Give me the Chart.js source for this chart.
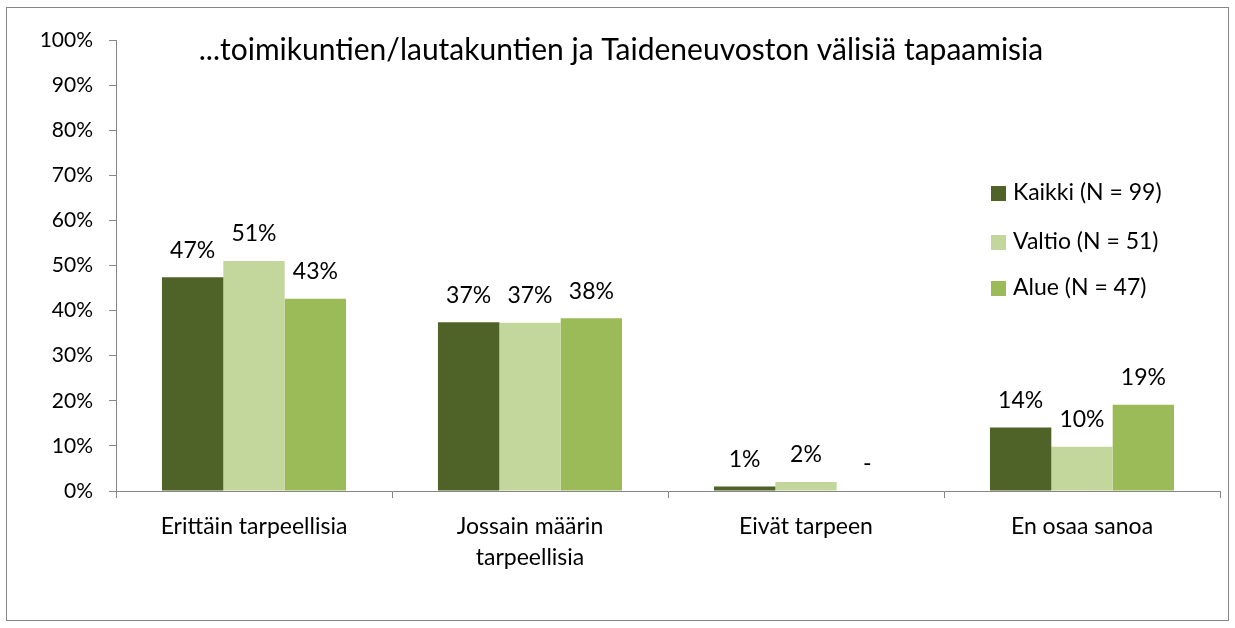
<!DOCTYPE html>
<html>
<head>
<meta charset="utf-8">
<script src="https://cdn.jsdelivr.net/npm/chart.js@4"></script>
<style>
  html, body { margin: 0; padding: 0; background: #fff; }
  #wrap { position: relative; width: 1235px; height: 628px; }
</style>
</head>
<body>
<div id="wrap"><canvas id="chart" width="1235" height="628"></canvas></div>
<script>
// ========== DATA ==========
const chartTitle = '...toimikuntien/lautakuntien ja Taideneuvoston välisiä tapaamisia';
const categories = ['Erittäin tarpeellisia', ['Jossain määrin', 'tarpeellisia'], 'Eivät tarpeen', 'En osaa sanoa'];
const seriesNames = ['Kaikki (N = 99)', 'Valtio (N = 51)', 'Alue (N = 47)'];
const kaikki = [47.4, 37.4, 1.0, 14.1];
const valtio = [51.0, 37.3, 2.0, 9.8];
const alue = [42.6, 38.3, 0, 19.1];
const yTicks = [0, 10, 20, 30, 40, 50, 60, 70, 80, 90, 100];

const colors = ['#4F6228', '#C3D69B', '#9BBB59'];
const FONT = 'Lato, "Open Sans", sans-serif';
const AXIS_COLOR = '#868686';

function pctLabel(v) {
  return v === 0 ? '-' : Math.round(v) + '%';
}

// frame around the whole chart
const framePlugin = {
  id: 'frame',
  beforeDraw(chart) {
    const ctx = chart.ctx;
    ctx.save();
    ctx.fillStyle = '#fff';
    ctx.fillRect(0, 0, chart.width, chart.height);
    ctx.strokeStyle = AXIS_COLOR;
    ctx.lineWidth = 1;
    ctx.strokeRect(6.5, 7.5, 1222, 613);
    ctx.restore();
  }
};

// value labels above the bars
const barLabelsPlugin = {
  id: 'barLabels',
  afterDatasetsDraw(chart) {
    const ctx = chart.ctx;
    ctx.save();
    ctx.font = '23px ' + FONT;
    ctx.fillStyle = '#000';
    ctx.textAlign = 'center';
    ctx.textBaseline = 'middle';
    chart.data.datasets.forEach((ds, i) => {
      const meta = chart.getDatasetMeta(i);
      meta.data.forEach((bar, j) => {
        ctx.fillText(pctLabel(ds.data[j]), bar.x, bar.y - 27);
      });
    });
    ctx.restore();
  }
};

// title + legend drawn inside the plot area like the original
const overlayPlugin = {
  id: 'overlay',
  afterDraw(chart) {
    const ctx = chart.ctx;
    ctx.save();
    ctx.fillStyle = '#000';
    ctx.textBaseline = 'middle';
    ctx.textAlign = 'center';
    ctx.font = '30px ' + FONT;
    ctx.fillText(chartTitle, 621, 50);

    ctx.textAlign = 'left';
    ctx.font = '23px ' + FONT;
    const rows = [193, 242, 288];
    chart.data.datasets.forEach((ds, i) => {
      ctx.fillStyle = ds.backgroundColor;
      ctx.fillRect(991, rows[i] - 7, 15, 15);
      ctx.fillStyle = '#000';
      ctx.fillText(ds.label, 1013, rows[i]);
    });
    ctx.restore();
  }
};

const datasets = [kaikki, valtio, alue].map((data, i) => ({
  label: seriesNames[i],
  data,
  backgroundColor: colors[i],
  borderWidth: 0,
  categoryPercentage: 0.667,
  barPercentage: 1.0
}));

new Chart(document.getElementById('chart'), {
  type: 'bar',
  data: { labels: categories, datasets },
  options: {
    responsive: false,
    animation: false,
    events: [],
    layout: { padding: { left: 0, top: 40, right: 15, bottom: 0 } },
    plugins: {
      legend: { display: false },
      title: { display: false },
      tooltip: { enabled: false }
    },
    scales: {
      x: {
        grid: {
          offset: true,
          drawOnChartArea: false,
          drawTicks: true,
          tickLength: 7,
          color: AXIS_COLOR
        },
        border: { color: AXIS_COLOR, width: 1 },
        ticks: {
          color: '#000',
          font: { family: FONT, size: 23, lineHeight: 1.35 },
          padding: 13,
          maxRotation: 0,
          autoSkip: false
        },
        afterFit(scale) { scale.height = 137; }
      },
      y: {
        min: 0,
        max: 100,
        afterBuildTicks(scale) { scale.ticks = yTicks.map(v => ({ value: v })); },
        grid: {
          drawOnChartArea: false,
          drawTicks: true,
          tickLength: 7,
          color: AXIS_COLOR
        },
        border: { color: AXIS_COLOR, width: 1 },
        ticks: {
          color: '#000',
          font: { family: FONT, size: 21 },
          padding: 16,
          callback: v => v + '%'
        },
        afterFit(scale) { scale.width = 116; }
      }
    }
  },
  plugins: [framePlugin, barLabelsPlugin, overlayPlugin]
});
</script>
</body>
</html>
